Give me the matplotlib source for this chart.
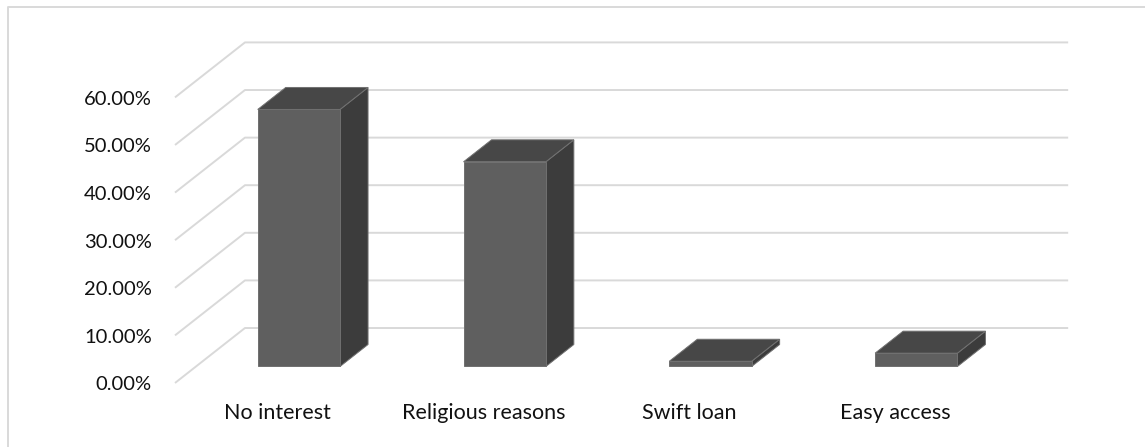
import matplotlib.pyplot as plt
from matplotlib.patches import Polygon
from matplotlib.lines import Line2D

plt.rcParams['font.family'] = ['Lato', 'DejaVu Sans']

categories = ['No interest', 'Religious reasons', 'Swift loan', 'Easy access']
values = [54.0, 43.0, 1.1, 2.8]
ticks = [0, 10, 20, 30, 40, 50, 60]
tick_labels = ['{:.2f}%'.format(t) for t in ticks]

# pseudo 3d setup (data units): depth shift of the floor, bar width and depth band
DX = 0.34
DY = 11.55
W = 0.4
F1, F2 = 0.3, 0.7

grid_c = '#d9d9d9'
front_c = '#5f5f5f'
top_c = '#474747'
side_c = '#3c3c3c'
edge_c = '#707070'

fig = plt.figure(figsize=(11.45, 4.47), dpi=100)
ax = fig.add_axes([0, 0, 1, 1])
ax.set_xlim(-0.8503, 4.7133)
ax.set_ylim(-13.45, 80.46)
ax.axis('off')

# chart border (only left and top visible)
fig.add_artist(Line2D([8 / 1145, 8 / 1145, 1.0], [0.0, 1 - 7 / 447, 1 - 7 / 447],
                      transform=fig.transFigure, color=grid_c, lw=1.4))

n = len(categories)
# gridlines: side wall diagonal + back wall
for t, lab in zip(ticks, tick_labels):
    ax.plot([0, DX, n + DX], [t, t + DY, t + DY], color=grid_c, lw=1.4, zorder=1,
            solid_capstyle='butt')
    ax.annotate(lab, (0, t), xytext=(-23, -2), textcoords='offset pixels',
                ha='right', va='center', fontsize=14.5, color='#111111')

# bars
dd = (F2 - F1) * DX
ddy = (F2 - F1) * DY
for i, (cat, v) in enumerate(zip(categories, values)):
    xc = i + 0.5
    xl = xc - W / 2 + F1 * DX
    xr = xl + W
    yb = F1 * DY
    yt = yb + v
    front = [(xl, yb), (xr, yb), (xr, yt), (xl, yt)]
    side = [(xr, yb), (xr + dd, yb + ddy), (xr + dd, yt + ddy), (xr, yt)]
    top = [(xl, yt), (xr, yt), (xr + dd, yt + ddy), (xl + dd, yt + ddy)]
    for pts, c in [(side, side_c), (top, top_c), (front, front_c)]:
        ax.add_patch(Polygon(pts, closed=True, facecolor=c, edgecolor=edge_c,
                             lw=0.7, zorder=3))
    ax.annotate(cat, (xc, 0), xytext=(0, -30), textcoords='offset pixels',
                ha='center', va='center', fontsize=15.5, color='#111111')

fig.savefig('out.png', dpi=100)
